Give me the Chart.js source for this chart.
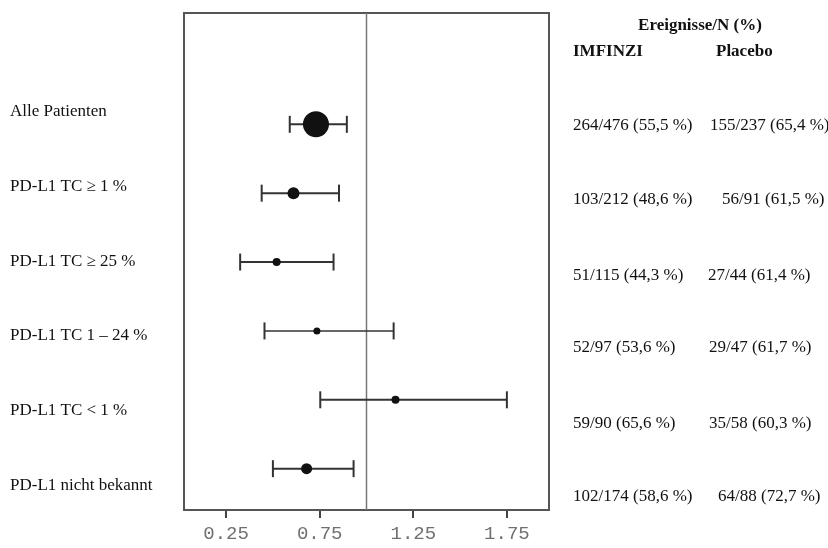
<!DOCTYPE html>
<html><head><meta charset="utf-8">
<script src="https://cdn.jsdelivr.net/npm/chart.js@4/dist/chart.umd.min.js"></script>
<style>html,body{margin:0;padding:0;background:#fff}#wrap{width:828px;height:548px;position:relative}</style>
</head><body><div id="wrap"><canvas id="c" width="828" height="548"></canvas></div>
<script>
const categories = ['Alle Patienten', 'PD-L1 TC \u2265 1 %', 'PD-L1 TC \u2265 25 %', 'PD-L1 TC 1 \u2013 24 %', 'PD-L1 TC < 1 %', 'PD-L1 nicht bekannt'];
const hazardRatio = [0.73, 0.61, 0.52, 0.735, 1.155, 0.68];
const ciLower = [0.59, 0.44, 0.325, 0.455, 0.753, 0.50];
const ciUpper = [0.895, 0.853, 0.824, 1.145, 1.75, 0.931];
const imfinziEvents = ['264/476 (55,5 %)', '103/212 (48,6 %)', '51/115 (44,3 %)', '52/97 (53,6 %)', '59/90 (65,6 %)', '102/174 (58,6 %)'];
const placeboEvents = ['155/237 (65,4 %)', '56/91 (61,5 %)', '27/44 (61,4 %)', '29/47 (61,7 %)', '35/58 (60,3 %)', '64/88 (72,7 %)'];
const xTickValues = [0.25, 0.75, 1.25, 1.75];
const referenceValue = 1;

// styles (not data)
const markerRadius = [13, 6, 4, 3.5, 4, 5.5];
const ciLineWidth = [2, 2, 2, 1.5, 2, 2];
const serif = "'Liberation Serif', 'Times New Roman', serif";

const yMin = -1.616, yMax = 5.6;

const datasets = [];
datasets.push({
  type: 'scatter', order: 1,
  data: hazardRatio.map((v, i) => ({x: v, y: i})),
  pointRadius: markerRadius, pointHoverRadius: markerRadius,
  backgroundColor: '#111', borderWidth: 0, pointBorderWidth: 0
});
categories.forEach((c, i) => {
  datasets.push({
    type: 'line', order: 2,
    data: [{x: ciLower[i], y: i}, {x: ciUpper[i], y: i}],
    borderColor: '#333', borderWidth: ciLineWidth[i],
    pointStyle: 'line', pointRotation: 90, pointRadius: 8.5, pointHoverRadius: 8.5,
    pointBorderColor: '#333', pointBorderWidth: 2, pointBackgroundColor: '#333'
  });
});
datasets.push({
  type: 'line', order: 3,
  data: [{x: referenceValue, y: yMin}, {x: referenceValue, y: yMax}],
  borderColor: '#777', borderWidth: 1.5, pointRadius: 0
});

const boxPlugin = {
  id: 'box',
  beforeDatasetsDraw(chart) {
    const a = chart.chartArea, ctx = chart.ctx;
    ctx.save();
    ctx.strokeStyle = '#555'; ctx.lineWidth = 2;
    ctx.strokeRect(a.left, a.top, a.right - a.left, a.bottom - a.top);
    ctx.restore();
  }
};

const textPlugin = {
  id: 'texts',
  afterDraw(chart) {
    const ctx = chart.ctx;
    ctx.save();
    ctx.fillStyle = '#111';
    ctx.textBaseline = 'middle';
    ctx.textAlign = 'left';
    ctx.font = '17px ' + serif;
    const labelY = [112, 187, 262, 336, 411, 486];
    categories.forEach((c, i) => ctx.fillText(c, 10, labelY[i]));
    ctx.font = 'bold 17px ' + serif;
    ctx.textAlign = 'center';
    ctx.fillText('Ereignisse/N (%)', 700, 26);
    ctx.textAlign = 'left';
    ctx.fillText('IMFINZI', 573, 52);
    ctx.fillText('Placebo', 716, 52);
    ctx.font = '17px ' + serif;
    const rowY = [126, 200, 276, 348, 424, 497];
    const pX = [710, 722, 708, 709, 709, 718];
    imfinziEvents.forEach((t, i) => ctx.fillText(t, 573, rowY[i]));
    placeboEvents.forEach((t, i) => ctx.fillText(t, pX[i], rowY[i]));
    ctx.restore();
  }
};

new Chart(document.getElementById('c'), {
  type: 'scatter',
  data: {datasets},
  options: {
    responsive: false, animation: false,
    layout: {padding: {left: 184, right: 279, top: 10, bottom: 0}},
    plugins: {legend: {display: false}, tooltip: {enabled: false}},
    scales: {
      x: {
        type: 'linear', min: 0.025, max: 1.975,
        afterBuildTicks: s => { s.ticks = xTickValues.map(v => ({value: v})); },
        afterFit: s => { s.height = 38; },
        ticks: {
          callback: v => Number(v).toFixed(2),
          font: {family: "'Liberation Mono', 'Courier New', monospace", size: 19},
          color: '#707070', padding: 5, maxRotation: 0
        },
        grid: {drawOnChartArea: false, drawTicks: true, tickLength: 8, color: '#444', lineWidth: 2},
        border: {display: true, color: '#555', width: 2}
      },
      y: {type: 'linear', min: yMin, max: yMax, reverse: true, display: false}
    }
  },
  plugins: [boxPlugin, textPlugin]
});
</script></body></html>
